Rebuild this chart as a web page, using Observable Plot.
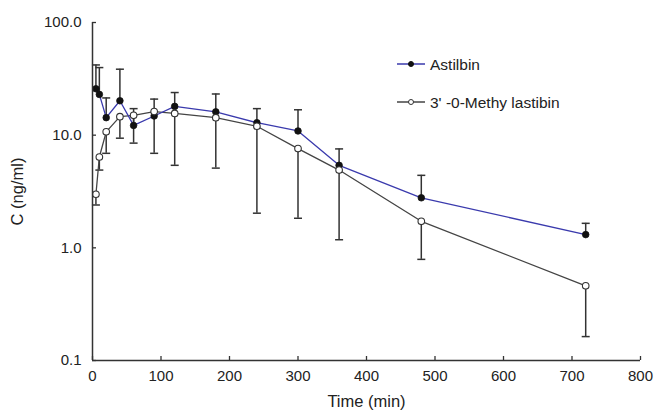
<!DOCTYPE html>
<html><head><meta charset="utf-8">
<script src="https://cdn.jsdelivr.net/npm/d3@7"></script>
<script src="https://cdn.jsdelivr.net/npm/@observablehq/plot@0.6"></script>
<style>
body{margin:0;background:#fff;font-family:"Liberation Sans",Arial,sans-serif;}
#wrap{position:relative;width:657px;height:412px;}
#legend{position:absolute;left:0;top:0;pointer-events:none;}
</style></head><body><div id="wrap"></div>
<script>
const times = [5, 10, 20, 40, 60, 90, 120, 180, 240, 300, 360, 480, 720];
const astilbin = [25.8, 23.0, 14.3, 20.2, 12.2, 14.8, 18.0, 16.1, 12.9, 10.9, 5.4, 2.78, 1.31];
const astilbinUpper = [42, 39.8, 21.4, 38.5, 17.2, 20.9, 23.9, 23.2, 17.2, 16.8, 7.55, 4.4, 1.65];
const methyl = [2.99, 6.4, 10.7, 14.6, 15.0, 16.2, 15.6, 14.3, 12.0, 7.6, 4.9, 1.72, 0.46];
const methylLower = [2.4, 4.9, 6.9, 9.4, 8.5, 6.9, 5.4, 5.1, 2.03, 1.83, 1.18, 0.79, 0.163];
const xTicks = [0, 100, 200, 300, 400, 500, 600, 700, 800];
const yTicks = [0.1, 1, 10, 100];
const seriesNames = ["Astilbin", "3' -0-Methy lastibin"];

const A = times.map((t, i) => ({t, v: astilbin[i], e: astilbinUpper[i]}));
const M = times.map((t, i) => ({t, v: methyl[i], e: methylLower[i]}));

const capSymbol = {draw(ctx, size) { const w = Math.sqrt(size / Math.PI); ctx.moveTo(-w, 0); ctx.lineTo(w, 0); }};
const axisColor = "#333";
const blue = "#3a3aad";
const gray = "#444";
const font = '"Liberation Sans", Arial, sans-serif';

const plot = Plot.plot({
  width: 657, height: 412,
  marginTop: 22, marginBottom: 52, marginLeft: 92, marginRight: 17,
  style: {fontFamily: font, fontSize: "15px", color: "#222", background: "#fff"},
  x: {domain: [0, 800]},
  y: {type: "log", domain: [0.1, 100]},
  marks: [
    Plot.axisX({ticks: xTicks, tickSize: -4, tickPadding: 14, stroke: axisColor, strokeWidth: 1.3,
      label: null, fontSize: 15}),
    Plot.axisX({ticks: [], label: "Time (min)", labelAnchor: "center", labelOffset: 46, labelArrow: "none", fontSize: 16.5}),
    Plot.axisY({ticks: yTicks, tickSize: -4, tickPadding: 15, stroke: axisColor, strokeWidth: 1.3,
      tickFormat: d => d.toFixed(1), label: null, fontSize: 15}),
    Plot.axisY({ticks: [], label: "C (ng/ml)", labelAnchor: "center", labelOffset: 81, labelArrow: "none", fontSize: 16.5}),
    Plot.ruleX(A, {x: "t", y1: "v", y2: "e", stroke: axisColor, strokeWidth: 1.5}),
    Plot.dot(A, {x: "t", y: "e", r: 4, symbol: capSymbol, fill: "none", stroke: axisColor, strokeWidth: 1.5}),
    Plot.ruleX(M, {x: "t", y1: "v", y2: "e", stroke: axisColor, strokeWidth: 1.5}),
    Plot.dot(M, {x: "t", y: "e", r: 4, symbol: capSymbol, fill: "none", stroke: axisColor, strokeWidth: 1.5}),
    Plot.line(M, {x: "t", y: "v", stroke: gray, strokeWidth: 1.3}),
    Plot.line(A, {x: "t", y: "v", stroke: blue, strokeWidth: 1.3}),
    Plot.dot(A, {x: "t", y: "v", r: 3.3, fill: "#111", stroke: "#111", strokeWidth: 0.8}),
    Plot.dot(M, {x: "t", y: "v", r: 3.3, fill: "#fff", stroke: "#333", strokeWidth: 1.1}),
    Plot.ruleX([0], {stroke: axisColor, strokeWidth: 1.5}),
    Plot.ruleY([0.1], {stroke: axisColor, strokeWidth: 1.5})
  ]
});
const wrap = document.getElementById("wrap");
wrap.appendChild(plot);

// legend
const ns = "http://www.w3.org/2000/svg";
const lg = document.createElementNS(ns, "svg");
lg.setAttribute("id", "legend");
lg.setAttribute("width", 657); lg.setAttribute("height", 412);
const rows = [{y: 64, stroke: blue, fill: "#111", dstroke: "#111"}, {y: 102, stroke: gray, fill: "#fff", dstroke: "#333"}];
rows.forEach((r, i) => {
  const l = document.createElementNS(ns, "line");
  l.setAttribute("x1", 397); l.setAttribute("x2", 425); l.setAttribute("y1", r.y); l.setAttribute("y2", r.y);
  l.setAttribute("stroke", r.stroke); l.setAttribute("stroke-width", 1.5);
  lg.appendChild(l);
  const c = document.createElementNS(ns, "circle");
  c.setAttribute("cx", 411); c.setAttribute("cy", r.y); c.setAttribute("r", 2.5);
  c.setAttribute("fill", r.fill); c.setAttribute("stroke", r.dstroke); c.setAttribute("stroke-width", 1);
  lg.appendChild(c);
  const t = document.createElementNS(ns, "text");
  t.setAttribute("x", 430); t.setAttribute("y", r.y + 5.5);
  t.setAttribute("font-size", 15.5); t.setAttribute("fill", "#222");
  t.setAttribute("font-family", font);
  t.textContent = seriesNames[i];
  lg.appendChild(t);
});
wrap.appendChild(lg);
</script></body></html>
